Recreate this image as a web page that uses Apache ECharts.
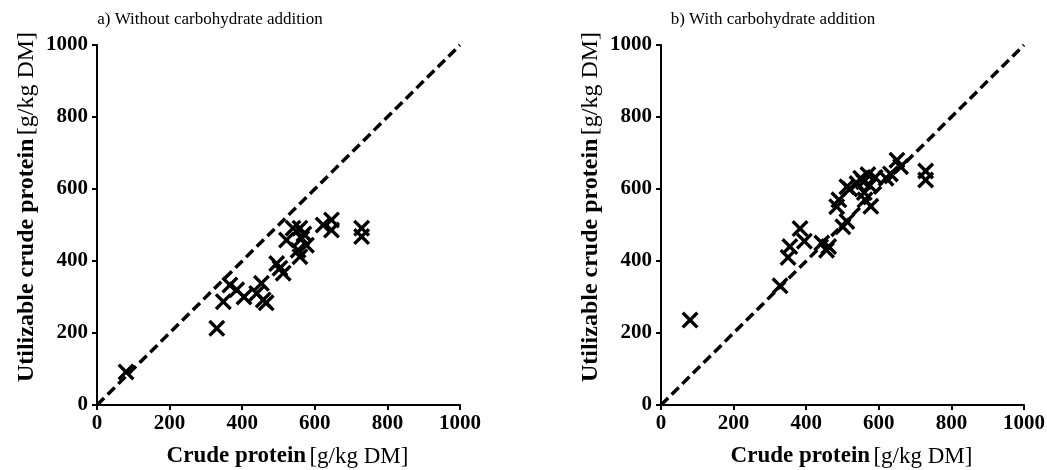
<!DOCTYPE html>
<html>
<head>
<meta charset="utf-8">
<script src="https://cdn.jsdelivr.net/npm/echarts@6/dist/echarts.min.js"></script>
<style>
  html, body { margin: 0; padding: 0; background: #fff; }
  #chart { width: 1047px; height: 470px; }
</style>
</head>
<body>
<div id="chart"></div>
<script>
// data: [crude protein, utilizable crude protein]
const withoutCarb = [
  [80, 92], [330, 213], [348, 287], [366, 333], [385, 320], [405, 300],
  [440, 310], [453, 338], [458, 292], [466, 284], [495, 393], [504, 380],
  [513, 366], [522, 458], [540, 491], [554, 430], [559, 412], [564, 463],
  [577, 444], [559, 491], [570, 475], [623, 500], [646, 514], [646, 486],
  [729, 491], [729, 468]
];
const withCarb = [
  [80, 236], [328, 331], [350, 410], [355, 440], [383, 490], [395, 455],
  [443, 450], [456, 430], [462, 440], [484, 551], [490, 570], [501, 495],
  [512, 510], [520, 600], [512, 606], [540, 615], [550, 630], [558, 620],
  [560, 590], [570, 640], [562, 570], [578, 552], [575, 610], [590, 632],
  [620, 630], [632, 642], [650, 680], [660, 662], [729, 650], [729, 625]
];
const identityLine = [[0, 0], [1000, 1000]];
const panelTitles = ['a) Without carbohydrate addition', 'b) With carbohydrate addition'];

const font = 'Liberation Serif';
// thick X marker
const xMark = 'path://M0,1.4 L1.4,0 L5,3.6 L8.6,0 L10,1.4 L6.4,5 L10,8.6 L8.6,10 L5,6.4 L1.4,10 L0,8.6 L3.6,5 Z';

const chart = echarts.init(document.getElementById('chart'));

const grids = [
  { left: 97, top: 45, width: 363, height: 360, outerBoundsMode: 'none' },
  { left: 661, top: 45, width: 363, height: 360, outerBoundsMode: 'none' }
];

function axisBase(idx, margin) {
  return {
    type: 'value',
    gridIndex: idx,
    min: 0,
    max: 1000,
    interval: 200,
    splitLine: { show: false },
    axisLine: { show: true, onZero: false, lineStyle: { color: '#000', width: 2 } },
    axisTick: { show: true, length: 5, lineStyle: { color: '#000', width: 2 } },
    axisLabel: {
      color: '#000', fontFamily: font, fontWeight: 'bold', fontSize: 21,
      margin: margin, formatter: v => String(v)
    }
  };
}

const xRich = {
  b: { fontFamily: font, fontWeight: 'bold', fontSize: 23, color: '#000' },
  n: { fontFamily: font, fontSize: 23, color: '#000' }
};
const yRich = {
  b: { fontFamily: font, fontWeight: 'bold', fontSize: 24, color: '#000' },
  n: { fontFamily: font, fontSize: 24, color: '#000' }
};

const xAxes = [0, 1].map(i => Object.assign(axisBase(i, 8), {
  name: '{b|Crude protein} {n|[g/kg DM]}',
  nameLocation: 'middle',
  nameGap: 40,
  nameTextStyle: { rich: xRich, padding: [0, 0, 0, 18] }
}));

const yAxes = [0, 1].map(i => Object.assign(axisBase(i, 9), {
  name: '{b|Utilizable crude protein} {n|[g/kg DM]}',
  nameLocation: 'middle',
  nameGap: 58,
  nameTextStyle: { rich: yRich, padding: [0, 0, 0, 36] }
}));

function scatter(idx, data) {
  return {
    type: 'scatter',
    xAxisIndex: idx,
    yAxisIndex: idx,
    data: data,
    symbol: xMark,
    symbolSize: 17,
    itemStyle: { color: '#000', opacity: 1 },
    z: 3
  };
}

function diagonal(idx) {
  return {
    type: 'line',
    xAxisIndex: idx,
    yAxisIndex: idx,
    data: identityLine,
    showSymbol: false,
    symbol: 'none',
    lineStyle: { color: '#000', width: 3.5, type: [10, 5] },
    z: 2
  };
}

chart.setOption({
  animation: false,
  title: [
    { text: panelTitles[0], left: 205, top: 6, textAlign: 'center',
      textStyle: { fontFamily: font, fontWeight: 'normal', fontSize: 17, color: '#000' } },
    { text: panelTitles[1], left: 768, top: 6, textAlign: 'center',
      textStyle: { fontFamily: font, fontWeight: 'normal', fontSize: 17, color: '#000' } }
  ],
  grid: grids,
  xAxis: xAxes,
  yAxis: yAxes,
  series: [
    diagonal(0), scatter(0, withoutCarb),
    diagonal(1), scatter(1, withCarb)
  ]
});
</script>
</body>
</html>
